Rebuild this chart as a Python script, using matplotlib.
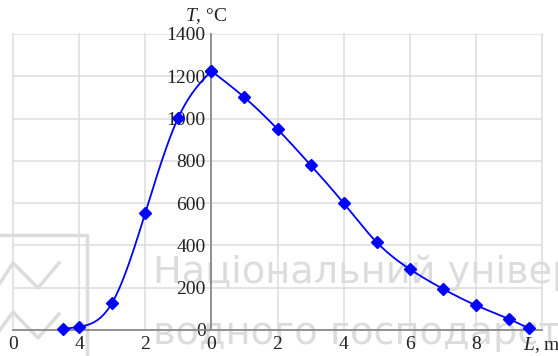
import numpy as np
import matplotlib
matplotlib.use("Agg")
import matplotlib.pyplot as plt
from matplotlib.lines import Line2D

# ---- data ----
left_x = [-4.5, -4, -3, -2, -1, 0]
left_y = [5, 15, 129, 553, 1005, 1225]
right_x = [0, 1, 2, 3, 4, 5, 6, 7, 8, 9, 9.6]
right_y = [1225, 1100, 950, 780, 600, 415, 288, 195, 117, 52, 8]

xtick_pos = [-6, -4, -2, 0, 2, 4, 6, 8, 10]
xtick_lab = ["0", "4", "2", "0", "2", "4", "6", "8", "$L$, m"]
ytick_pos = [0, 200, 400, 600, 800, 1000, 1200, 1400]
ytick_lab = ["0", "200", "400", "600", "800", "1000", "1200", "1400"]


def natural_spline(x, y, n=300):
    x = np.asarray(x, float)
    y = np.asarray(y, float)
    k = len(x)
    h = np.diff(x)
    A = np.zeros((k, k))
    b = np.zeros(k)
    A[0, 0] = 1
    A[-1, -1] = 1
    for i in range(1, k - 1):
        A[i, i - 1] = h[i - 1]
        A[i, i] = 2 * (h[i - 1] + h[i])
        A[i, i + 1] = h[i]
        b[i] = 6 * ((y[i + 1] - y[i]) / h[i] - (y[i] - y[i - 1]) / h[i - 1])
    M = np.linalg.solve(A, b)
    xs = np.linspace(x[0], x[-1], n)
    idx = np.clip(np.searchsorted(x, xs) - 1, 0, k - 2)
    x0, x1 = x[idx], x[idx + 1]
    hh = x1 - x0
    t0 = x1 - xs
    t1 = xs - x0
    ys = (M[idx] * t0 ** 3 + M[idx + 1] * t1 ** 3) / (6 * hh) \
        + (y[idx] / hh - M[idx] * hh / 6) * t0 \
        + (y[idx + 1] / hh - M[idx + 1] * hh / 6) * t1
    return xs, ys


plt.rcParams['font.family'] = ['Liberation Serif', 'DejaVu Serif']
plt.rcParams['mathtext.fontset'] = 'custom'
plt.rcParams['mathtext.it'] = 'Liberation Serif:italic'
plt.rcParams['mathtext.rm'] = 'Liberation Serif'

W, H = 558, 356
fig = plt.figure(figsize=(W / 100, H / 100), dpi=100)
ax = fig.add_axes([13 / W, 1 - 330 / H, (542 - 13) / W, (330 - 34) / H])
ax.set_zorder(2)

ax.set_xlim(-6, 10)
ax.set_ylim(0, 1400)

# watermark (behind)
wm_col = '#dcdcdc'
fig.text(153 / W, 1 - 283 / H, "Національний універ", fontsize=27.5,
         family=['DejaVu Sans'], color=wm_col, ha='left', va='baseline', zorder=0)
fig.text(153 / W, 1 - 344 / H, "водного господарст", fontsize=27.5,
         family=['DejaVu Sans'], color=wm_col, ha='left', va='baseline', zorder=0)
logo_lines = [
    ([0, 87, 87], [235, 235, 356]),
    ([0, 13, 38, 59], [283, 263, 288, 263]),
    ([0, 13, 38, 59], [330, 312, 338, 314]),
]
for lx, ly in logo_lines:
    fig.add_artist(Line2D([v / W for v in lx], [1 - v / H for v in ly],
                          transform=fig.transFigure, color=wm_col, lw=2.5, zorder=0))

ax.patch.set_alpha(0)

# grid
ax.set_xticks(xtick_pos)
ax.set_xticklabels(xtick_lab)
ax.set_yticks(ytick_pos)
ax.set_yticklabels(ytick_lab)
ax.grid(True, color='#dcdcdc', lw=1.1, zorder=1)
for gl in ax.get_xgridlines() + ax.get_ygridlines():
    gl.set_clip_on(False)
ax.tick_params(length=0, labelsize=14, colors='#222222')
ax.tick_params(axis='x', pad=4)
ax.tick_params(axis='y', pad=4)

for s in ['top', 'right']:
    ax.spines[s].set_visible(False)
ax.spines['left'].set_position(('data', 0))
ax.spines['left'].set_color('#8a8a8a')
ax.spines['bottom'].set_color('#8a8a8a')
ax.spines['left'].set_linewidth(1.3)
ax.spines['bottom'].set_linewidth(1.3)
ax.set_axisbelow(True)

# curves
for xx, yy in [(left_x, left_y), (right_x, right_y)]:
    xs, ys = natural_spline(xx, yy)
    ax.plot(xs, ys, color='#0000ff', lw=1.3, zorder=3, clip_on=False)
    ax.plot(xx, yy, linestyle='none', marker='D', markersize=6.5,
            color='#0000ff', zorder=4, clip_on=False)

fig.text(206 / W, 1 - 21 / H, "$T$, °C", fontsize=14, ha='center', va='baseline', color='#222222')

fig.savefig("out.png", dpi=100)
